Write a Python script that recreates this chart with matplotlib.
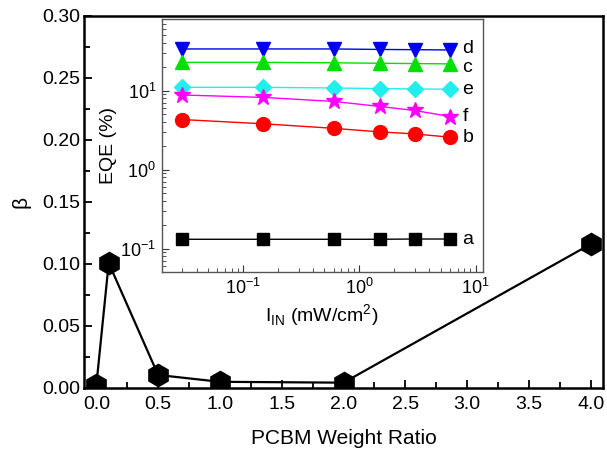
import matplotlib
matplotlib.use("Agg")
import matplotlib.pyplot as plt
from matplotlib.ticker import MultipleLocator, FormatStrFormatter, LogLocator, LogFormatterSciNotation, NullFormatter

plt.rcParams['font.family'] = ['Liberation Sans', 'DejaVu Sans']

# Main panel: beta versus PCBM weight ratio
pcbm_ratio = [0.0, 0.1, 0.5, 1.0, 2.0, 4.0]
beta = [0.0024, 0.1008, 0.0105, 0.005, 0.0043, 0.116]

# Inset: EQE versus incident light intensity
intensity = [0.03, 0.15, 0.6, 1.5, 3.0, 6.0]
eqe_a = [0.131, 0.131, 0.131, 0.131, 0.132, 0.132]
eqe_b = [4.3, 3.8, 3.33, 3.0, 2.83, 2.57]
eqe_c = [22.8, 22.8, 22.5, 22.2, 22.0, 21.8]
eqe_d = [33.7, 33.7, 33.7, 33.2, 33.0, 32.7]
eqe_e = [11.0, 11.0, 10.8, 10.6, 10.5, 10.4]
eqe_f = [8.8, 8.2, 7.3, 6.3, 5.6, 4.7]
series_names = ['d', 'c', 'e', 'f', 'b', 'a']

fig = plt.figure(figsize=(6.07, 4.55), dpi=100)
ax = fig.add_axes([84/607, 1-388/455, (603-84)/607, (388-16)/455])

ax.plot(pcbm_ratio, beta, color='black', lw=1.6, marker='h', ms=16,
        mfc='black', mec='black', zorder=3)
ax.set_xlim(-0.1, 4.1)
ax.set_ylim(0.0, 0.30)
ax.xaxis.set_major_locator(MultipleLocator(0.5))
ax.xaxis.set_minor_locator(MultipleLocator(0.25))
ax.yaxis.set_major_locator(MultipleLocator(0.05))
ax.yaxis.set_minor_locator(MultipleLocator(0.025))
ax.xaxis.set_major_formatter(FormatStrFormatter('%.1f'))
ax.yaxis.set_major_formatter(FormatStrFormatter('%.2f'))
ax.tick_params(which='both', direction='in', top=False, right=False, width=1.3, labelsize=14)
ax.tick_params(axis='y', which='major', length=6, pad=3)
ax.tick_params(axis='y', which='minor', length=4)
ax.tick_params(axis='x', which='major', length=6, pad=6)
ax.tick_params(axis='x', which='minor', length=4)
for s in ax.spines.values():
    s.set_linewidth(1.8)
ax.set_xlabel('PCBM Weight Ratio', fontsize=15, labelpad=11)
ax.set_ylabel('β', fontsize=15, labelpad=8)

# Inset
ins = fig.add_axes([161.7/607, 1-272.3/455, (482.7-161.7)/607, (272.3-19.3)/455])
ins.set_xscale('log')
ins.set_yscale('log')
ins.set_xlim(0.02, 11.5)
ins.set_ylim(0.05, 80)

styles = [
    (eqe_d, 'v', '#0000ee', 1.0),
    (eqe_c, '^', '#00e000', -2.5),
    (eqe_e, 'D', '#22eeee', 0.0),
    (eqe_f, '*', '#ff00ff', 0.0),
    (eqe_b, 'o', '#ff0000', 0.0),
    (eqe_a, 's', '#000000', 0.0),
]
for name, (vals, mk, col, dy) in zip(series_names, styles):
    ms = 12 if mk == '*' else (8 if mk in ('D', 's') else 10)
    ins.plot(intensity, vals, color=col, lw=1.0, marker=mk, ms=ms, mfc=col, mec=col)
    ins.annotate(name, xy=(intensity[-1], vals[-1]), xytext=(9, dy),
                 textcoords='offset points', ha='left', va='center', fontsize=14)

ins.xaxis.set_major_locator(LogLocator(base=10))
ins.xaxis.set_minor_locator(LogLocator(base=10, subs=range(2, 10)))
ins.yaxis.set_major_locator(LogLocator(base=10))
ins.yaxis.set_minor_locator(LogLocator(base=10, subs=range(2, 10)))
ins.xaxis.set_major_formatter(LogFormatterSciNotation())
ins.yaxis.set_major_formatter(LogFormatterSciNotation())
ins.xaxis.set_minor_formatter(NullFormatter())
ins.yaxis.set_minor_formatter(NullFormatter())
ins.tick_params(which='both', direction='in', top=False, right=False, labelsize=13, color='#333333')
ins.tick_params(which='major', length=5, pad=4)
ins.tick_params(which='minor', length=3)
for s in ins.spines.values():
    s.set_linewidth(1.0)
    s.set_color('#555555')
ins.set_ylabel('EQE (%)', fontsize=14, labelpad=2)
ins.set_xlabel(r'I$_{\mathdefault{IN}}$ (mW/cm$^{\mathdefault{2}}$)', fontsize=14, labelpad=3)

fig.savefig('out.png', dpi=100)
